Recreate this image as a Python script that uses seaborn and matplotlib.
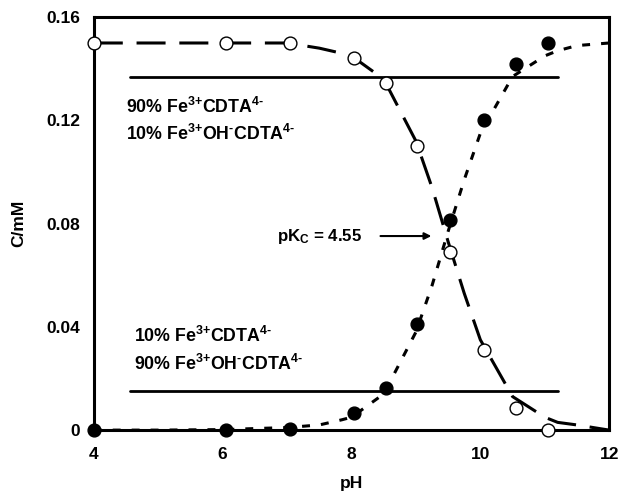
"""Fe(III)-CDTA speciation versus pH: measured points and fitted curves."""

import matplotlib
matplotlib.use("Agg")
import matplotlib.pyplot as plt
import pandas as pd
import seaborn as sns

# measured points
PH_POINTS = [4.0, 6.05, 7.05, 8.04, 8.53, 9.02, 9.53, 10.05, 10.55, 11.05]
FE_CDTA = [0.150, 0.150, 0.150, 0.144, 0.1345, 0.110, 0.069, 0.031, 0.0085, 0.0]
FE_OH_CDTA = [0.0, 0.0, 0.0005, 0.0066, 0.0163, 0.041, 0.0814, 0.120, 0.142, 0.150]

# smoothed curves
PH_CURVE = [4.0, 5.0, 6.0, 7.0, 7.5, 7.85, 8.0, 8.5, 9.0, 9.25, 9.5, 9.75, 10.0, 10.5,
            11.0, 11.2, 11.5, 12.0]
CURVE_CDTA = [0.150, 0.150, 0.150, 0.150, 0.148, 0.146, 0.145, 0.136, 0.112, 0.094, 0.073,
              0.053, 0.035, 0.013, 0.005, 0.003, 0.002, 0.0]
CURVE_OH_CDTA = [0.0, 0.0, 0.0002, 0.001, 0.002, 0.004, 0.005, 0.014, 0.038, 0.056, 0.077,
                 0.097, 0.115, 0.137, 0.145, 0.147, 0.149, 0.150]

UPPER_LEVEL = 0.137
LOWER_LEVEL = 0.015
LEVEL_PH = [4.56, 11.2]

X_TICKS = [4, 6, 8, 10, 12]
Y_TICKS = [0, 0.04, 0.08, 0.12, 0.16]
Y_TICK_LABELS = ["0", "0.04", "0.08", "0.12", "0.16"]

sns.set_theme(style="white", rc={"text.color": "black", "axes.labelcolor": "black",
                                 "xtick.color": "black", "ytick.color": "black"})
plt.rcParams["font.family"] = ["Liberation Sans", "DejaVu Sans"]
plt.rcParams["font.weight"] = "bold"
plt.rcParams["mathtext.fontset"] = "custom"
plt.rcParams["mathtext.rm"] = "Liberation Sans:bold"
plt.rcParams["mathtext.bf"] = "Liberation Sans:bold"
plt.rcParams["mathtext.it"] = "Liberation Sans:bold"
plt.rcParams["mathtext.default"] = "bf"

fig = plt.figure(figsize=(6.21, 4.91), dpi=100)
ax = fig.add_axes([0.151, 0.124, 0.830, 0.841])

curves = pd.DataFrame({"pH": PH_CURVE, "cdta": CURVE_CDTA, "oh": CURVE_OH_CDTA})
sns.lineplot(data=curves, x="pH", y="cdta", ax=ax, color="black", linewidth=2.2,
             clip_on=False)
ax.lines[-1].set_dashes([9.5, 4.5])
sns.lineplot(data=curves, x="pH", y="oh", ax=ax, color="black", linewidth=2.2,
             clip_on=False)
ax.lines[-1].set_dashes([2.6, 3.6])

for level in (UPPER_LEVEL, LOWER_LEVEL):
    ax.plot(LEVEL_PH, [level, level], color="black", linewidth=2.0)

points = pd.DataFrame({"pH": PH_POINTS, "cdta": FE_CDTA, "oh": FE_OH_CDTA})
sns.scatterplot(data=points, x="pH", y="cdta", ax=ax, s=85, facecolor="white",
                edgecolor="black", linewidth=1.0, zorder=5, clip_on=False)
sns.scatterplot(data=points, x="pH", y="oh", ax=ax, s=85, color="black",
                edgecolor="black", linewidth=1.0, zorder=5, clip_on=False)

ax.set_xlim(4, 12)
ax.set_ylim(0, 0.16)
ax.set_xticks(X_TICKS)
ax.set_yticks(Y_TICKS)
ax.set_yticklabels(Y_TICK_LABELS)
ax.tick_params(axis="y", length=0, labelsize=12.5, pad=10, labelcolor="black")
ax.tick_params(axis="x", length=0, labelsize=12.5, pad=12, labelcolor="black")
for lbl in ax.get_xticklabels() + ax.get_yticklabels():
    lbl.set_fontweight("bold")
ax.set_xlabel("pH", fontsize=12.5, fontweight="bold", labelpad=10, color="black")
ax.set_ylabel("C/mM", fontsize=12.5, fontweight="bold", labelpad=14, color="black")
for spine in ax.spines.values():
    spine.set_color("black")
    spine.set_linewidth(2.2)

txt = dict(fontsize=12.8, ha="left", va="center", color="black")
ax.text(4.5, 0.1252, r"90% Fe$^{\text{3+}}$CDTA$^{\text{4-}}$", **txt)
ax.text(4.5, 0.1147, r"10% Fe$^{\text{3+}}$OH$^{\text{-}}$CDTA$^{\text{4-}}$", **txt)
ax.text(4.63, 0.0364, r"10% Fe$^{\text{3+}}$CDTA$^{\text{4-}}$", **txt)
ax.text(4.63, 0.0256, r"90% Fe$^{\text{3+}}$OH$^{\text{-}}$CDTA$^{\text{4-}}$", **txt)
ax.annotate(r"pK$_\text{C}$ = 4.55", xy=(9.24, 0.0752), xytext=(6.84, 0.0752),
            fontsize=12.2, va="center", color="black",
            arrowprops=dict(arrowstyle="-|>", color="black", lw=1.5, shrinkA=11, shrinkB=0,
                            mutation_scale=10))

fig.savefig("out.png", dpi=100)
